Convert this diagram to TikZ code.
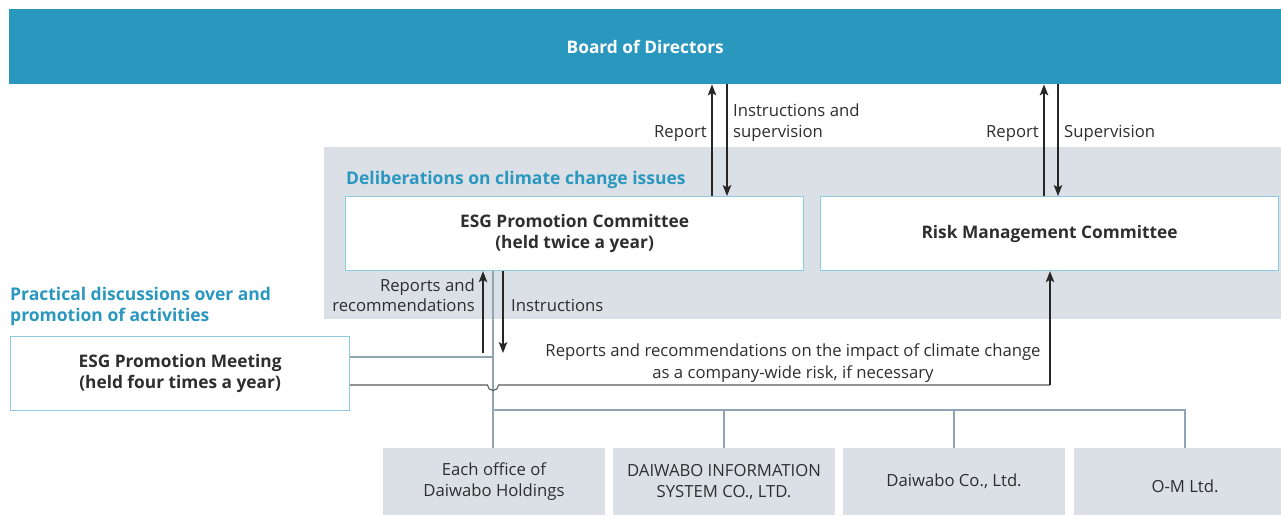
\documentclass[tikz,border=0pt]{standalone}
\usepackage{fontspec}
\setmainfont{Open Sans}
\usetikzlibrary{arrows.meta,calc}
\definecolor{boardblue}{HTML}{2A97BF}
\definecolor{bandgrey}{HTML}{DAE0E6}
\definecolor{boxedge}{HTML}{8CCBE0}
\definecolor{busline}{HTML}{8FA5B3}
\definecolor{textgrey}{HTML}{2E2E2E}
\definecolor{headblue}{HTML}{2A97BF}
\tikzset{
  x=1pt,y=-1pt,
  wbox/.style={draw=boxedge,line width=1.2pt,fill=white,inner sep=0pt,
     font=\fontsize{17.3}{21}\selectfont\bfseries,text=textgrey,align=center},
  gbox/.style={fill=bandgrey,inner sep=0pt,font=\fontsize{16.7}{21}\selectfont,
     text=textgrey,align=center},
  lbl/.style={font=\fontsize{16.7}{21}\selectfont,text=textgrey,inner sep=0pt},
  head/.style={font=\fontsize{17.5}{21}\selectfont\bfseries,text=headblue,inner sep=0pt},
  arr/.style={draw=black!85,line width=1.2pt,-{Stealth[length=11pt,width=8.5pt,inset=2.5pt]}},
  bus/.style={draw=busline,line width=2.6pt},
  thin/.style={draw=black!65,line width=1.1pt}
}
\begin{document}
\begin{tikzpicture}
\useasboundingbox (0,0) rectangle (1281,515);
% board
\node[fill=boardblue,minimum width=1272pt,minimum height=75pt,inner sep=0pt,
  anchor=north west,text=white,font=\fontsize{17.3}{21}\selectfont\bfseries]
  (board) at (9,9) {Board of Directors};
% grey band
\fill[bandgrey] (324,147) rectangle (1281,319);
\node[head,anchor=base west] (hdelib) at (346,184) {Deliberations on climate change issues};
% committee boxes
\node[wbox,minimum width=458pt,minimum height=74pt,anchor=north west] (esg) at (345,196)
  {ESG Promotion Committee\\(held twice a year)};
\node[wbox,minimum width=458pt,minimum height=74pt,anchor=north west] (risk) at (820,196)
  {Risk Management Committee};
% practical label
\node[head,anchor=north west,align=left] (hprac) at (10,287)
  {Practical discussions over and\\promotion of activities};
\node[wbox,minimum width=339pt,minimum height=74pt,anchor=north west] (meet) at (10,336)
  {ESG Promotion Meeting\\(held four times a year)};
% bottom boxes
\node[gbox,minimum width=222pt,minimum height=67pt,anchor=north] (b1) at (494,448)
  {Each office of\\Daiwabo Holdings};
\node[gbox,minimum width=222pt,minimum height=67pt,anchor=north] (b2) at (724,448)
  {DAIWABO INFORMATION\\SYSTEM CO., LTD.};
\node[gbox,minimum width=222pt,minimum height=67pt,anchor=north] (b3) at (954,448)
  {Daiwabo Co., Ltd.};
\fill[bandgrey] (1074,448) rectangle (1281,515);
\node[lbl,anchor=center] (b4) at (1185,486) {O-M Ltd.};
\coordinate (b4top) at (1185,448);
% bus lines
\coordinate (j) at (493,410);
\draw[bus] (esg.south -| 493,0) -- (j);
\draw[bus] (meet.east |- 0,357) -- (493,357);
\draw[bus] (j) -- (493,410) -- (b4top |- j) -- (b4top);
\draw[bus] (j) -- (b1.north -| j);
\draw[bus] (b2.north |- j) -- (b2.north);
\draw[bus] (b3.north |- j) -- (b3.north);
% thin connector with hop
\coordinate (rk) at (1050,385);
\draw[thin] (meet.east |- rk) -- (487.5,385) arc (180:0:5.5) -- (rk);
\draw[arr] (rk) -- (risk.south -| rk);
% arrows between ESG committee and meeting
\draw[arr] (483,353) -- (esg.south -| 483,0);
\draw[arr] (esg.south -| 503,0) -- (503,353);
\node[lbl,anchor=base east,align=right] (lrr) at (475,291) {Reports and};
\node[lbl,anchor=base east] (lrr2) at (475,311) {recommendations};
\node[lbl,anchor=base west] (lins) at (511,311) {Instructions};
\node[lbl,anchor=base,align=center] (lrisk) at (793,356)
  {Reports and recommendations on the impact of climate change};
\node[lbl,anchor=base] (lrisk2) at (793,378) {as a company-wide risk, if necessary};
% board arrows
\draw[arr] (esg.north -| 712,0) -- (board.south -| 712,0);
\draw[arr] (board.south -| 727,0) -- (esg.north -| 727,0);
\draw[arr] (risk.north -| 1044,0) -- (board.south -| 1044,0);
\draw[arr] (board.south -| 1058,0) -- (risk.north -| 1058,0);
\node[lbl,anchor=base east] (lrep1) at (707,137) {Report};
\node[lbl,anchor=base west] (lins1) at (733,116) {Instructions and};
\node[lbl,anchor=base west] (lsup1) at (733,137) {supervision};
\node[lbl,anchor=base east] (lrep2) at (1039,137) {Report};
\node[lbl,anchor=base west] (lsup2) at (1064,137) {Supervision};
\end{tikzpicture}
\end{document}
